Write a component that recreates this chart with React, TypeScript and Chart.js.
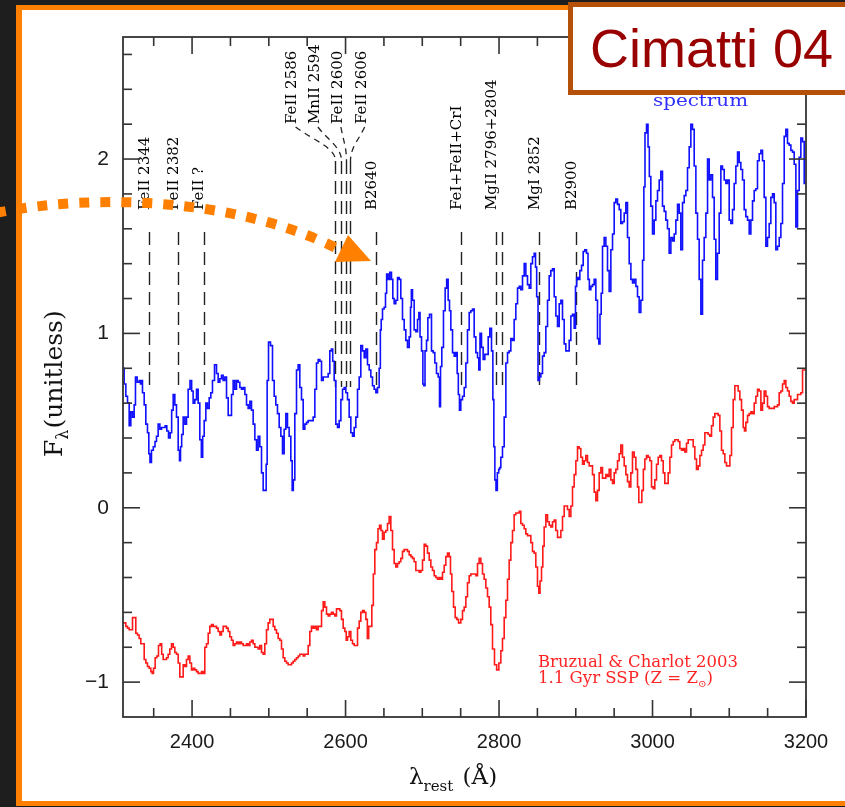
import React, { useEffect, useRef } from 'react';
import { Chart, registerables } from 'chart.js';

Chart.register(...registerables);

// ---------- axis ranges and ticks ----------
const xMin = 2310;
const xMax = 3200;
const yMin = -1.2;
const yMax = 2.7;
const xMajorTicks = [2400, 2600, 2800, 3000, 3200];
const xMinorTicks = [2350, 2450, 2500, 2550, 2650, 2700, 2750, 2850, 2900, 2950, 3050, 3100, 3150];
const yMajorTicks = [-1, 0, 1, 2];
const yMinorTicks = [-0.8, -0.6, -0.4, -0.2, 0.2, 0.4, 0.6, 0.8, 1.2, 1.4, 1.6, 1.8, 2.2, 2.4, 2.6];

// ---------- observed spectrum [wavelength (Å), F_lambda] ----------
const observedSpectrum: [number, number][] = [
  [2310.0, 0.80], [2310.4, 0.80], [2312.6, 0.71], [2314.8, 0.64], [2317.0, 0.60], [2319.1, 0.47], [2321.3, 0.55],
  [2323.5, 0.52], [2325.6, 0.59], [2326.9, 0.75], [2330.0, 0.72], [2332.1, 0.73], [2333.5, 0.71], [2334.3, 0.73],
  [2336.5, 0.66], [2338.7, 0.59], [2340.8, 0.48], [2343.0, 0.43], [2344.3, 0.31], [2346.0, 0.26], [2348.2, 0.33],
  [2350.8, 0.35], [2352.6, 0.38], [2354.7, 0.41], [2356.9, 0.48], [2359.1, 0.45], [2361.3, 0.46], [2363.9, 0.46],
  [2366.0, 0.47], [2368.2, 0.44], [2370.4, 0.40], [2372.5, 0.43], [2374.3, 0.56], [2376.5, 0.65], [2378.6, 0.59],
  [2380.8, 0.52], [2383.0, 0.33], [2384.3, 0.27], [2385.6, 0.35], [2387.3, 0.42], [2389.5, 0.52], [2391.7, 0.48],
  [2393.8, 0.52], [2396.0, 0.68], [2398.6, 0.73], [2400.3, 0.67], [2402.5, 0.60], [2404.7, 0.62], [2406.9, 0.68],
  [2409.0, 0.60], [2411.2, 0.39], [2413.0, 0.29], [2414.7, 0.41], [2416.9, 0.50], [2419.0, 0.60], [2421.2, 0.57],
  [2423.4, 0.63], [2425.5, 0.66], [2427.7, 0.73], [2430.8, 0.82], [2432.9, 0.77], [2435.1, 0.72], [2437.3, 0.74],
  [2439.4, 0.76], [2441.6, 0.73], [2443.8, 0.75], [2446.0, 0.63], [2448.1, 0.53], [2450.3, 0.53], [2452.5, 0.65],
  [2454.6, 0.73], [2456.8, 0.68], [2459.0, 0.73], [2461.2, 0.72], [2463.3, 0.69], [2465.5, 0.68], [2467.7, 0.69],
  [2469.9, 0.65], [2472.0, 0.59], [2474.2, 0.57], [2476.4, 0.61], [2478.5, 0.56], [2480.7, 0.48], [2482.9, 0.39],
  [2485.0, 0.33], [2487.2, 0.41], [2489.4, 0.35], [2491.6, 0.20], [2493.7, 0.10], [2495.9, 0.10], [2497.2, 0.25],
  [2498.5, 0.73], [2500.7, 0.95], [2503.7, 0.93], [2505.9, 0.73], [2508.1, 0.64], [2510.2, 0.59], [2512.4, 0.54],
  [2514.6, 0.46], [2516.8, 0.41], [2518.9, 0.31], [2521.1, 0.45], [2523.3, 0.54], [2525.4, 0.46], [2527.6, 0.41],
  [2529.8, 0.27], [2531.1, 0.10], [2532.8, 0.16], [2535.0, 0.54], [2537.2, 0.79], [2539.3, 0.82], [2541.5, 0.69],
  [2543.7, 0.62], [2545.9, 0.45], [2548.0, 0.48], [2550.2, 0.49], [2552.4, 0.50], [2554.5, 0.50], [2556.7, 0.50],
  [2558.9, 0.52], [2561.1, 0.68], [2563.2, 0.83], [2565.4, 0.85], [2567.6, 0.84], [2569.8, 0.73], [2571.9, 0.75],
  [2574.1, 0.75], [2576.3, 0.75], [2578.4, 0.77], [2580.6, 0.90], [2582.4, 0.91], [2584.1, 0.84], [2586.3, 0.73],
  [2588.4, 0.48], [2590.6, 0.46], [2592.8, 0.50], [2595.0, 0.62], [2597.1, 0.68], [2599.3, 0.69], [2601.5, 0.66],
  [2603.6, 0.62], [2605.8, 0.52], [2608.0, 0.43], [2610.2, 0.41], [2612.3, 0.46], [2614.5, 0.52], [2616.7, 0.68],
  [2618.8, 0.75], [2621.0, 0.93], [2623.2, 0.90], [2625.4, 0.86], [2627.5, 0.91], [2629.7, 0.82], [2631.9, 0.79],
  [2634.0, 0.75], [2636.2, 0.70], [2638.4, 0.68], [2640.6, 0.66], [2642.7, 0.69], [2644.9, 0.80], [2645.8, 1.02],
  [2647.1, 1.08], [2649.2, 1.14], [2651.4, 1.15], [2652.7, 1.23], [2654.4, 1.34], [2656.6, 1.31], [2658.8, 1.35],
  [2660.9, 1.31], [2662.3, 1.20], [2664.4, 1.17], [2666.6, 1.19], [2668.8, 1.32], [2670.9, 1.31], [2673.1, 1.20],
  [2675.3, 1.08], [2677.5, 1.02], [2679.6, 0.96], [2681.8, 0.92], [2684.0, 0.98], [2685.3, 1.15], [2686.2, 1.25],
  [2688.3, 1.19], [2690.5, 1.02], [2692.7, 1.01], [2694.9, 1.08], [2696.2, 1.12], [2697.9, 0.98], [2700.1, 0.90],
  [2701.4, 0.71], [2702.7, 0.70], [2704.4, 0.90], [2706.6, 0.96], [2707.9, 1.09], [2710.9, 1.11], [2713.1, 0.90],
  [2715.3, 0.89], [2717.4, 0.83], [2719.6, 0.77], [2721.8, 0.75], [2723.1, 0.58], [2724.4, 0.81], [2726.5, 0.92],
  [2728.7, 1.13], [2730.9, 1.26], [2732.6, 1.31], [2734.8, 1.19], [2736.1, 1.13], [2738.3, 1.02], [2740.5, 0.89],
  [2742.6, 0.87], [2744.8, 0.89], [2746.1, 0.77], [2747.8, 0.65], [2749.1, 0.56], [2751.3, 0.62], [2753.5, 0.64],
  [2755.7, 0.69], [2757.8, 0.83], [2760.0, 1.02], [2762.2, 1.12], [2764.3, 1.13], [2766.5, 1.14], [2768.7, 0.98],
  [2770.9, 0.89], [2773.0, 0.86], [2774.3, 0.79], [2776.1, 1.00], [2778.2, 0.92], [2780.4, 0.85], [2782.6, 0.88],
  [2784.8, 0.88], [2786.9, 0.98], [2789.1, 1.03], [2791.3, 0.90], [2792.6, 0.62], [2793.9, 0.35], [2795.2, 0.16],
  [2796.9, 0.10], [2798.7, 0.20], [2800.4, 0.22], [2801.3, 0.23], [2803.4, 0.29], [2805.6, 0.35], [2807.8, 0.52],
  [2810.0, 0.83], [2812.1, 0.89], [2814.3, 0.90], [2816.5, 0.97], [2818.6, 0.96], [2820.8, 1.08], [2823.0, 1.17],
  [2825.2, 1.26], [2827.3, 1.27], [2829.5, 1.25], [2831.7, 1.33], [2833.9, 1.40], [2836.0, 1.33], [2838.2, 1.28],
  [2840.4, 1.26], [2842.5, 1.40], [2844.7, 1.44], [2846.9, 1.46], [2848.2, 1.38], [2849.9, 1.21], [2851.7, 0.73],
  [2853.4, 0.75], [2855.6, 0.77], [2857.7, 0.87], [2859.9, 0.89], [2862.1, 1.04], [2864.3, 1.19], [2866.4, 1.33],
  [2868.6, 1.36], [2870.8, 1.37], [2873.0, 1.21], [2875.1, 1.10], [2877.3, 1.04], [2879.5, 1.17], [2881.6, 1.19],
  [2883.8, 1.08], [2886.0, 0.94], [2888.1, 0.90], [2890.3, 0.90], [2892.5, 0.96], [2894.7, 1.10], [2896.8, 1.11],
  [2899.0, 1.03], [2900.3, 1.27], [2902.1, 1.32], [2904.2, 1.31], [2906.4, 1.36], [2908.6, 1.39], [2910.7, 1.47],
  [2912.9, 1.48], [2915.1, 1.46], [2916.8, 1.31], [2918.6, 1.25], [2920.7, 1.27], [2922.9, 1.28], [2925.1, 1.31],
  [2927.2, 1.19], [2929.4, 0.97], [2930.7, 0.94], [2932.4, 1.11], [2933.8, 1.23], [2935.9, 1.50], [2938.1, 1.55],
  [2940.3, 1.50], [2942.4, 1.36], [2944.6, 1.24], [2946.8, 1.48], [2949.0, 1.57], [2951.1, 1.75], [2953.3, 1.77],
  [2955.5, 1.74], [2957.6, 1.71], [2959.8, 1.63], [2962.0, 1.64], [2964.2, 1.69], [2966.3, 1.75], [2968.5, 1.55],
  [2970.7, 1.40], [2972.9, 1.31], [2975.0, 1.29], [2977.2, 1.31], [2979.4, 1.27], [2981.5, 1.21], [2983.7, 1.12],
  [2985.9, 1.19], [2988.1, 1.42], [2989.3, 1.84], [2991.1, 2.15], [2993.3, 2.20], [2995.0, 2.07], [2996.7, 1.90],
  [2998.9, 1.73], [3001.1, 1.57], [3003.3, 1.65], [3005.4, 1.76], [3007.6, 1.82], [3009.8, 1.88], [3011.9, 1.93],
  [3014.1, 1.73], [3016.3, 1.70], [3018.4, 1.65], [3020.6, 1.60], [3022.8, 1.46], [3025.0, 1.55], [3027.2, 1.53],
  [3029.3, 1.57], [3031.5, 1.65], [3033.7, 1.74], [3035.8, 1.69], [3038.0, 1.48], [3040.2, 1.75], [3042.4, 1.79],
  [3044.5, 1.82], [3046.7, 1.95], [3048.9, 2.07], [3051.0, 2.20], [3053.2, 2.17], [3055.4, 1.96], [3057.6, 1.69],
  [3059.7, 1.54], [3061.9, 1.31], [3064.1, 1.11], [3066.2, 1.42], [3068.4, 1.55], [3070.6, 1.69], [3072.8, 2.00],
  [3074.9, 1.88], [3077.1, 1.91], [3079.3, 1.78], [3081.4, 1.54], [3083.6, 1.31], [3085.8, 1.46], [3088.0, 1.69],
  [3090.1, 1.96], [3092.3, 1.94], [3094.5, 1.88], [3096.6, 1.86], [3098.8, 1.88], [3101.0, 1.65], [3103.2, 1.63],
  [3105.3, 1.71], [3107.5, 1.86], [3109.7, 1.96], [3111.9, 2.04], [3114.0, 1.98], [3116.2, 1.94], [3118.4, 1.88],
  [3120.5, 1.71], [3122.7, 1.67], [3124.9, 1.65], [3127.1, 1.57], [3129.2, 1.65], [3131.4, 1.76], [3133.6, 1.82],
  [3135.7, 1.83], [3137.9, 1.99], [3140.1, 2.03], [3142.3, 2.05], [3144.4, 1.99], [3146.6, 1.78], [3148.8, 1.50],
  [3150.9, 1.55], [3153.1, 1.63], [3155.3, 1.78], [3157.5, 1.80], [3159.6, 1.75], [3161.8, 1.48], [3164.0, 1.50],
  [3166.2, 1.55], [3168.3, 1.63], [3170.5, 1.86], [3172.7, 2.13], [3174.8, 2.17], [3177.0, 2.09], [3179.2, 2.08],
  [3181.4, 2.05], [3183.5, 2.04], [3185.7, 1.97], [3187.9, 1.61], [3190.0, 1.82], [3192.2, 2.01], [3194.4, 2.12],
  [3196.6, 2.10], [3198.7, 1.86], [3200.0, 1.86],
];

// ---------- Bruzual & Charlot 2003 model (offset) [wavelength (Å), F_lambda] ----------
const modelSpectrum: [number, number][] = [
  [2310.0, -0.66], [2310.4, -0.66], [2312.6, -0.66], [2314.8, -0.68], [2317.0, -0.69], [2319.1, -0.70], [2321.3, -0.70],
  [2323.5, -0.63], [2325.6, -0.63], [2327.8, -0.72], [2330.0, -0.73], [2332.1, -0.75], [2334.3, -0.78], [2336.5, -0.78],
  [2338.7, -0.87], [2340.8, -0.89], [2343.0, -0.91], [2345.2, -0.92], [2347.4, -0.94], [2348.7, -0.95], [2350.8, -0.92],
  [2353.0, -0.86], [2355.2, -0.85], [2357.3, -0.79], [2359.5, -0.78], [2361.3, -0.84], [2363.4, -0.87], [2365.6, -0.87],
  [2367.8, -0.86], [2369.9, -0.84], [2372.1, -0.81], [2374.3, -0.78], [2376.5, -0.80], [2378.6, -0.83], [2380.8, -0.84],
  [2383.0, -0.89], [2385.1, -0.97], [2387.3, -0.97], [2389.5, -0.90], [2391.7, -0.91], [2393.8, -0.87], [2396.0, -0.85],
  [2398.2, -0.89], [2400.3, -0.93], [2402.5, -0.92], [2404.7, -0.93], [2406.9, -0.94], [2409.0, -0.95], [2411.2, -0.95],
  [2413.4, -0.94], [2415.5, -0.95], [2417.7, -0.80], [2419.9, -0.78], [2422.1, -0.72], [2424.2, -0.68], [2426.4, -0.67],
  [2428.6, -0.68], [2430.8, -0.68], [2432.9, -0.69], [2435.1, -0.71], [2437.3, -0.73], [2439.4, -0.71], [2441.6, -0.68],
  [2443.8, -0.68], [2446.0, -0.69], [2448.1, -0.71], [2450.3, -0.74], [2452.5, -0.76], [2454.6, -0.79], [2456.8, -0.78],
  [2459.0, -0.77], [2461.2, -0.78], [2463.3, -0.77], [2465.5, -0.78], [2467.7, -0.79], [2469.9, -0.79], [2472.0, -0.78],
  [2474.2, -0.79], [2476.4, -0.77], [2478.5, -0.76], [2480.7, -0.78], [2482.9, -0.80], [2485.0, -0.80], [2487.2, -0.81],
  [2489.4, -0.79], [2491.6, -0.83], [2493.7, -0.84], [2495.9, -0.78], [2498.1, -0.70], [2500.2, -0.66], [2502.4, -0.64],
  [2504.6, -0.64], [2506.8, -0.68], [2508.9, -0.70], [2511.1, -0.72], [2513.3, -0.75], [2515.5, -0.76], [2517.6, -0.81],
  [2519.8, -0.86], [2522.0, -0.88], [2524.1, -0.89], [2526.3, -0.90], [2528.5, -0.90], [2530.7, -0.89], [2532.8, -0.88],
  [2535.0, -0.87], [2537.2, -0.86], [2539.3, -0.85], [2541.5, -0.84], [2543.7, -0.84], [2545.9, -0.85], [2548.0, -0.84],
  [2550.2, -0.84], [2552.4, -0.79], [2554.5, -0.71], [2556.7, -0.68], [2558.9, -0.69], [2561.1, -0.68], [2563.2, -0.70],
  [2565.4, -0.68], [2567.6, -0.68], [2569.8, -0.59], [2571.9, -0.54], [2574.1, -0.57], [2576.3, -0.61], [2578.4, -0.62],
  [2580.6, -0.61], [2582.8, -0.60], [2585.0, -0.61], [2587.1, -0.62], [2589.3, -0.58], [2591.5, -0.58], [2593.6, -0.59],
  [2595.8, -0.64], [2598.0, -0.69], [2600.2, -0.71], [2601.5, -0.76], [2603.6, -0.74], [2605.8, -0.71], [2608.0, -0.76],
  [2610.2, -0.78], [2612.3, -0.79], [2614.5, -0.79], [2616.7, -0.69], [2618.8, -0.65], [2621.0, -0.60], [2623.2, -0.59],
  [2625.4, -0.60], [2627.5, -0.64], [2629.3, -0.75], [2631.0, -0.68], [2633.2, -0.68], [2635.3, -0.56], [2637.1, -0.38],
  [2639.2, -0.24], [2641.4, -0.20], [2643.2, -0.12], [2645.3, -0.10], [2647.1, -0.13], [2649.2, -0.18], [2651.4, -0.14],
  [2653.6, -0.13], [2655.7, -0.09], [2657.9, -0.05], [2660.1, -0.13], [2662.3, -0.24], [2664.4, -0.32], [2666.6, -0.34],
  [2668.8, -0.32], [2670.9, -0.31], [2673.1, -0.29], [2675.3, -0.25], [2677.5, -0.24], [2679.6, -0.24], [2681.8, -0.25],
  [2684.0, -0.27], [2686.2, -0.28], [2688.3, -0.29], [2690.5, -0.31], [2692.7, -0.36], [2694.9, -0.36], [2697.0, -0.37],
  [2699.2, -0.36], [2701.4, -0.30], [2703.5, -0.21], [2705.7, -0.22], [2707.9, -0.26], [2710.1, -0.30], [2712.2, -0.34],
  [2714.4, -0.36], [2716.6, -0.39], [2718.7, -0.40], [2720.9, -0.41], [2723.1, -0.40], [2725.3, -0.41], [2727.4, -0.37],
  [2729.6, -0.33], [2731.8, -0.28], [2733.9, -0.26], [2736.1, -0.28], [2737.4, -0.38], [2739.6, -0.48], [2741.8, -0.57],
  [2743.9, -0.63], [2746.1, -0.64], [2748.3, -0.66], [2749.1, -0.66], [2751.3, -0.64], [2753.5, -0.59], [2755.7, -0.57],
  [2757.8, -0.51], [2760.0, -0.43], [2762.2, -0.39], [2764.3, -0.38], [2766.5, -0.38], [2768.7, -0.38], [2770.9, -0.39],
  [2773.0, -0.32], [2775.2, -0.29], [2777.4, -0.32], [2779.5, -0.38], [2781.7, -0.41], [2783.9, -0.46], [2786.1, -0.51],
  [2788.2, -0.57], [2790.4, -0.67], [2792.6, -0.81], [2795.6, -0.90], [2798.2, -0.93], [2801.3, -0.89], [2803.4, -0.82],
  [2805.6, -0.75], [2807.8, -0.63], [2810.0, -0.53], [2812.1, -0.41], [2814.3, -0.30], [2816.5, -0.20], [2818.6, -0.13],
  [2820.8, -0.04], [2823.0, -0.03], [2825.2, -0.03], [2827.3, -0.02], [2829.5, -0.09], [2831.7, -0.10], [2833.8, -0.12],
  [2836.0, -0.15], [2838.2, -0.16], [2840.4, -0.16], [2842.5, -0.20], [2844.7, -0.25], [2846.9, -0.26], [2849.0, -0.34],
  [2851.2, -0.45], [2852.5, -0.49], [2854.3, -0.42], [2856.4, -0.34], [2857.7, -0.22], [2859.9, -0.11], [2862.1, -0.04],
  [2864.3, -0.08], [2866.4, -0.10], [2868.6, -0.11], [2870.8, -0.08], [2872.9, -0.07], [2875.1, -0.13], [2877.3, -0.17],
  [2879.5, -0.17], [2881.6, -0.13], [2883.8, -0.05], [2886.0, 0.01], [2888.1, 0.01], [2890.3, -0.01], [2892.5, -0.05],
  [2894.7, 0.01], [2896.8, 0.12], [2899.0, 0.19], [2901.2, 0.27], [2903.3, 0.35], [2905.5, 0.34], [2907.7, 0.29],
  [2909.9, 0.25], [2912.0, 0.27], [2914.2, 0.30], [2916.4, 0.26], [2918.6, 0.24], [2920.7, 0.24], [2922.9, 0.19],
  [2925.1, 0.09], [2927.2, 0.04], [2929.4, 0.10], [2931.6, 0.20], [2933.8, 0.23], [2935.9, 0.17], [2938.1, 0.17],
  [2940.3, 0.19], [2942.4, 0.18], [2944.6, 0.22], [2946.8, 0.16], [2949.0, 0.14], [2951.1, 0.20], [2953.3, 0.22],
  [2955.5, 0.27], [2957.6, 0.31], [2959.8, 0.36], [2962.0, 0.29], [2964.2, 0.24], [2966.3, 0.19], [2968.5, 0.15],
  [2970.7, 0.12], [2972.8, 0.20], [2975.0, 0.32], [2977.2, 0.29], [2979.4, 0.22], [2981.5, 0.12], [2982.8, 0.03],
  [2985.0, 0.03], [2987.2, 0.10], [2988.9, 0.22], [2991.1, 0.28], [2993.3, 0.30], [2995.4, 0.29], [2997.6, 0.27],
  [2999.8, 0.12], [3001.9, 0.11], [3004.1, 0.16], [3006.3, 0.25], [3008.5, 0.29], [3010.6, 0.30], [3012.8, 0.27],
  [3015.0, 0.20], [3017.1, 0.14], [3019.3, 0.14], [3021.5, 0.20], [3023.7, 0.29], [3025.8, 0.36], [3028.0, 0.38],
  [3030.2, 0.39], [3032.4, 0.39], [3034.5, 0.38], [3036.7, 0.34], [3038.9, 0.33], [3041.0, 0.34], [3043.2, 0.32],
  [3045.4, 0.37], [3047.6, 0.39], [3049.7, 0.39], [3051.9, 0.39], [3054.1, 0.35], [3056.2, 0.28], [3058.4, 0.22],
  [3060.6, 0.24], [3062.8, 0.30], [3064.9, 0.33], [3067.1, 0.36], [3069.3, 0.43], [3071.4, 0.43], [3073.6, 0.42],
  [3075.8, 0.41], [3078.0, 0.47], [3080.1, 0.52], [3082.3, 0.54], [3084.5, 0.54], [3086.7, 0.53], [3088.8, 0.44],
  [3091.0, 0.33], [3093.2, 0.31], [3095.3, 0.26], [3097.5, 0.24], [3099.7, 0.24], [3101.9, 0.30], [3104.0, 0.46],
  [3106.2, 0.62], [3108.4, 0.70], [3110.5, 0.70], [3112.7, 0.67], [3114.9, 0.62], [3117.1, 0.56], [3119.2, 0.46],
  [3120.5, 0.44], [3122.7, 0.49], [3124.9, 0.53], [3127.1, 0.54], [3129.2, 0.55], [3131.4, 0.54], [3133.6, 0.60],
  [3135.7, 0.64], [3137.9, 0.68], [3140.1, 0.67], [3142.3, 0.56], [3144.4, 0.60], [3146.6, 0.67], [3148.8, 0.64],
  [3150.9, 0.58], [3153.1, 0.57], [3155.3, 0.57], [3157.5, 0.57], [3159.6, 0.58], [3161.8, 0.58], [3164.0, 0.59],
  [3166.1, 0.66], [3168.3, 0.67], [3170.5, 0.71], [3172.7, 0.73], [3174.8, 0.69], [3177.0, 0.67], [3179.2, 0.64],
  [3181.3, 0.61], [3183.5, 0.60], [3185.7, 0.62], [3187.9, 0.62], [3190.0, 0.65], [3192.2, 0.65], [3194.4, 0.66],
  [3196.6, 0.79], [3198.8, 0.79], [3200.0, 0.79],
];

// ---------- absorption-feature identifications ----------
const featureLabels = ['FeII 2344', 'FeII 2382', 'FeII ?', 'FeII 2586', 'MnII 2594', 'FeII 2600', 'FeII 2606',
  'B2640', 'FeI+FeII+CrI', 'MgII 2796+2804', 'MgI 2852', 'B2900'];
const featureWaves: number[][] = [[2344], [2382], [2415], [2586], [2594], [2600], [2606], [2640], [2750],
  [2796, 2804], [2852], [2900]];

// ---------- text ----------
const titleText = 'Cimatti 04';
const spectrumLabel = 'spectrum';
const modelLine1 = 'Bruzual & Charlot 2003';
const modelLine2 = ['1.1 Gyr SSP (Z = Z', '\u2299', ')'];

// ---------- layout constants (pixels / styles; not data) ----------
const GROUP_IDX = [3, 4, 5, 6];
const GROUP_LABEL_AT = [2531, 2560, 2590, 2621];
const SERIF = '"DejaVu Serif", "Liberation Serif", serif';
const SANS = '"Liberation Sans", Arial, sans-serif';

function fitText(ctx: CanvasRenderingContext2D, text: string, x: number, y: number, width: number) {
  const w = ctx.measureText(text).width;
  ctx.save();
  ctx.translate(x, y);
  ctx.scale(width / w, 1);
  ctx.fillText(text, 0, 0);
  ctx.restore();
}

const decorPlugin = {
  id: 'spectrumDecor',
  beforeDatasetsDraw(chart: any) {
    const { ctx } = chart;
    const xs = chart.scales.x;
    const X = (v: number) => xs.getPixelForValue(v);
    ctx.save();
    // dashed identification lines
    ctx.strokeStyle = '#222';
    ctx.lineWidth = 1.4;
    ctx.setLineDash([13, 7]);
    featureWaves.forEach((ws, i) => {
      const grouped = GROUP_IDX.includes(i);
      ws.forEach((w) => {
        const x = Math.round(X(w)) + 0.5;
        ctx.beginPath();
        ctx.moveTo(x, grouped ? 161 : 232);
        ctx.lineTo(x, 387);
        ctx.stroke();
      });
    });
    // leader curves for the grouped lines
    ctx.setLineDash([6, 5]);
    ctx.lineWidth = 1.3;
    GROUP_IDX.forEach((idx, k) => {
      const sx = X(GROUP_LABEL_AT[k]) + 3;
      const sy = 127;
      const ex = Math.round(X(featureWaves[idx][0])) + 0.5;
      const ey = 161;
      ctx.beginPath();
      ctx.moveTo(sx, sy);
      ctx.bezierCurveTo(sx + (ex - sx) * 0.45, sy + (ey - sy) * 0.4, ex, sy + (ey - sy) * 0.6, ex, ey);
      ctx.stroke();
    });
    // labels (vertical text)
    ctx.setLineDash([]);
    ctx.fillStyle = '#000';
    ctx.font = `15px ${SERIF}`;
    ctx.textAlign = 'left';
    ctx.textBaseline = 'middle';
    featureLabels.forEach((t, i) => {
      const g = GROUP_IDX.indexOf(i);
      const x = g >= 0 ? X(GROUP_LABEL_AT[g]) : X(featureWaves[i][0]) - 4;
      const y = g >= 0 ? 124 : 210;
      ctx.save();
      ctx.translate(x, y);
      ctx.rotate(-Math.PI / 2);
      ctx.fillText(t, 0, 0);
      ctx.restore();
    });
    ctx.restore();
  },
  afterDraw(chart: any) {
    const { ctx, chartArea } = chart;
    const { left, right, top, bottom } = chartArea;
    const xs = chart.scales.x;
    const ys = chart.scales.y;
    ctx.save();
    ctx.strokeStyle = '#333';
    ctx.lineWidth = 1.8;
    ctx.setLineDash([]);
    ctx.strokeRect(left, top, right - left, bottom - top);
    const seg = (x1: number, y1: number, x2: number, y2: number) => {
      ctx.beginPath();
      ctx.moveTo(x1, y1);
      ctx.lineTo(x2, y2);
      ctx.stroke();
    };
    const major = 17;
    const minor = 9;
    ctx.lineWidth = 1.6;
    xMajorTicks.forEach((v) => { const x = xs.getPixelForValue(v); seg(x, bottom, x, bottom - major); seg(x, top, x, top + major); });
    xMinorTicks.forEach((v) => { const x = xs.getPixelForValue(v); seg(x, bottom, x, bottom - minor); seg(x, top, x, top + minor); });
    yMajorTicks.forEach((v) => { const y = ys.getPixelForValue(v); seg(left, y, left + major, y); seg(right, y, right - major, y); });
    yMinorTicks.forEach((v) => { const y = ys.getPixelForValue(v); seg(left, y, left + minor, y); seg(right, y, right - minor, y); });

    // x-axis title: λ_rest (Å)
    ctx.fillStyle = '#111';
    ctx.textBaseline = 'alphabetic';
    ctx.textAlign = 'left';
    const bigX = `23px ${SERIF}`;
    const smallX = `15px ${SERIF}`;
    ctx.font = bigX; const w1 = ctx.measureText('\u03bb').width;
    ctx.font = smallX; const w2 = ctx.measureText('rest').width;
    ctx.font = bigX; const w3 = ctx.measureText(' (\u00c5)').width;
    let cx = 452 - (w1 + w2 + w3) / 2;
    const by = 784;
    ctx.font = bigX; ctx.fillText('\u03bb', cx, by); cx += w1;
    ctx.font = smallX; ctx.fillText('rest', cx, by + 7); cx += w2 + 2;
    ctx.font = bigX; ctx.fillText(' (\u00c5)', cx, by);

    // y-axis title: F_λ(unitless)
    ctx.save();
    ctx.translate(62, 457);
    ctx.rotate(-Math.PI / 2);
    const bigY = `25px ${SERIF}`;
    const smallY = `16px ${SERIF}`;
    let cy = 0;
    ctx.font = bigY; ctx.fillText('F', cy, 0); cy += ctx.measureText('F').width;
    ctx.font = smallY; ctx.fillText('\u03bb', cy, 6); cy += ctx.measureText('\u03bb').width + 1;
    ctx.font = bigY; ctx.fillText('(unitless)', cy, 0);
    ctx.restore();

    // "spectrum" label
    ctx.fillStyle = '#2f2fff';
    ctx.font = `17px ${SERIF}`;
    fitText(ctx, spectrumLabel, 653, 106, 95);

    // model legend
    ctx.fillStyle = '#ff2424';
    ctx.font = `16px ${SERIF}`;
    fitText(ctx, modelLine1, 538, 667, 200);
    ctx.font = `16px ${SERIF}`; const a = ctx.measureText(modelLine2[0]).width;
    ctx.font = `10px ${SERIF}`; const b = ctx.measureText(modelLine2[1]).width;
    ctx.font = `16px ${SERIF}`; const c = ctx.measureText(modelLine2[2]).width;
    const sc = 175 / (a + b + c);
    ctx.save();
    ctx.translate(538, 683);
    ctx.scale(sc, 1);
    ctx.font = `16px ${SERIF}`; ctx.fillText(modelLine2[0], 0, 0);
    ctx.font = `10px ${SERIF}`; ctx.fillText(modelLine2[1], a, 4);
    ctx.font = `16px ${SERIF}`; ctx.fillText(modelLine2[2], a + b, 0);
    ctx.restore();
    ctx.restore();
  },
};

export default function App() {
  const canvasRef = useRef<HTMLCanvasElement | null>(null);

  useEffect(() => {
    const canvas = canvasRef.current;
    if (!canvas) return;
    const chart = new Chart(canvas, {
      type: 'line',
      data: {
        datasets: [
          {
            label: 'observed spectrum',
            data: observedSpectrum.map(([x, y]) => ({ x, y })),
            borderColor: '#1010ff',
            borderWidth: 1.6,
            pointRadius: 0,
            stepped: 'middle',
            fill: false,
          },
          {
            label: 'BC03 1.1 Gyr SSP',
            data: modelSpectrum.map(([x, y]) => ({ x, y })),
            borderColor: '#ff1a1a',
            borderWidth: 1.6,
            pointRadius: 0,
            stepped: 'middle',
            fill: false,
          },
        ],
      },
      options: {
        animation: false,
        responsive: false,
        devicePixelRatio: 1,
        layout: { padding: { left: 0, top: 37, right: 39, bottom: 0 } },
        plugins: { legend: { display: false }, tooltip: { enabled: false } },
        scales: {
          x: {
            type: 'linear',
            min: xMin,
            max: xMax,
            grid: { display: false, drawTicks: false },
            border: { display: false },
            ticks: {
              autoSkip: false,
              maxRotation: 0,
              padding: 13,
              color: '#1a1a1a',
              font: { family: SANS, size: 20 },
              callback: (v: any) => String(v),
            },
            afterBuildTicks: (s: any) => { s.ticks = xMajorTicks.map((value) => ({ value })); },
            afterFit: (s: any) => { s.height = 90; },
          },
          y: {
            type: 'linear',
            min: yMin,
            max: yMax,
            grid: { display: false, drawTicks: false },
            border: { display: false },
            ticks: {
              autoSkip: false,
              padding: 14,
              color: '#1a1a1a',
              font: { family: SANS, size: 21 },
              callback: (v: any) => (Number(v) < 0 ? '\u2212' + Math.abs(Number(v)) : String(v)),
            },
            afterBuildTicks: (s: any) => { s.ticks = yMajorTicks.map((value) => ({ value })); },
            afterFit: (s: any) => { s.width = 123; },
          },
        },
      } as any,
      plugins: [decorPlugin],
    });
    return () => chart.destroy();
  }, []);

  return (
    <div style={{ position: 'fixed', left: 0, top: 0, width: 845, height: 807, overflow: 'hidden', background: '#1e1e1e' }}>
      <div
        style={{
          position: 'absolute', left: 16, top: 5, width: 900, height: 801, boxSizing: 'border-box',
          background: '#ffffff', borderStyle: 'solid', borderColor: '#ff8000', borderWidth: '5px 0 5px 6px',
        }}
      />
      <canvas ref={canvasRef} width={845} height={807} style={{ position: 'absolute', left: 0, top: 0 }} />
      <div
        style={{
          position: 'absolute', left: 568, top: 2, width: 320, height: 93, boxSizing: 'border-box',
          border: '5px solid #b5500b', background: '#ffffff',
        }}
      />
      <div
        style={{
          position: 'absolute', left: 590, top: 21, fontFamily: SANS, fontSize: 54, lineHeight: '54px',
          color: '#990000', whiteSpace: 'nowrap',
        }}
      >
        {titleText}
      </div>
      <svg width={845} height={807} style={{ position: 'absolute', left: 0, top: 0, pointerEvents: 'none' }}>
        <path d="M -4 213 C 100 192, 240 200, 336 248" fill="none" stroke="#ff8000" strokeWidth={10} strokeDasharray="10 11" />
        <polygon points="348,235 371,261 335,262" fill="#ff8000" />
      </svg>
    </div>
  );
}
